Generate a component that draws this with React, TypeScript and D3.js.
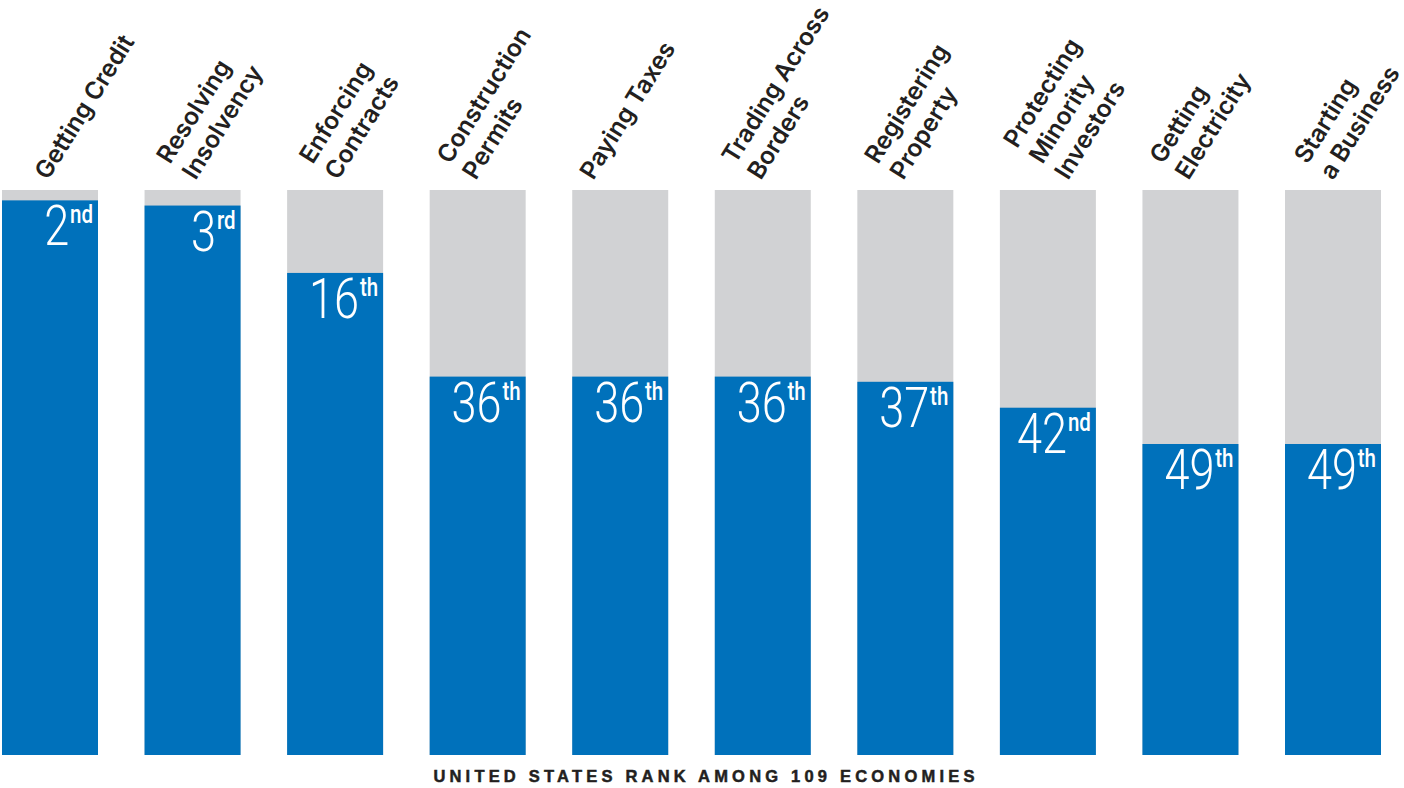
import React from "react";
import * as d3 from "d3";

const categories = [
  "Getting Credit",
  "Resolving Insolvency",
  "Enforcing Contracts",
  "Construction Permits",
  "Paying Taxes",
  "Trading Across Borders",
  "Registering Property",
  "Protecting Minority Investors",
  "Getting Electricity",
  "Starting a Business",
];
const labelLines = [
  ["Getting Credit"],
  ["Resolving", "Insolvency"],
  ["Enforcing", "Contracts"],
  ["Construction", "Permits"],
  ["Paying Taxes"],
  ["Trading Across", "Borders"],
  ["Registering", "Property"],
  ["Protecting", "Minority", "Investors"],
  ["Getting", "Electricity"],
  ["Starting", "a Business"],
];
const ranks = [2, 3, 16, 36, 36, 36, 37, 42, 49, 49];
const suffixes = ["nd", "rd", "th", "th", "th", "th", "th", "nd", "th", "th"];
const totalEconomies = 109;
const title = "UNITED STATES RANK AMONG 109 ECONOMIES";

// layout-only nudges for label placement
const labelDx = [-2, 3, 3, -2, -27, -2, -2, 20, -2, 0];

const W = 1404;
const H = 788;
const BLUE = "#0071bb";
const GRAY = "#d1d2d4";
const INK = "#231f20";

export default function App() {
  const x = d3
    .scaleBand<string>()
    .domain(categories)
    .range([2, 1381])
    .paddingInner(0.3266)
    .paddingOuter(0);
  const y = d3.scaleLinear().domain([0, totalEconomies]).range([190, 755]);
  const bw = x.bandwidth();
  const angle = -58;
  const lh = 30;

  return (
    <div style={{ position: "absolute", left: 0, top: 0 }}>
      <svg width={W} height={H} style={{ display: "block", background: "#fff" }}>
        {categories.map((c, i) => {
          const x0 = x(c)!;
          const r = ranks[i];
          const top = y(r);
          const lines = labelLines[i];
          const n = lines.length;
          const ax = x0 + bw / 2 + labelDx[i];
          const ay = 181;
          return (
            <g key={c}>
              <rect x={x0} y={y(0)} width={bw} height={y(totalEconomies) - y(0)} fill={GRAY} />
              <rect x={x0} y={top} width={bw} height={y(totalEconomies) - top} fill={BLUE} />
              <g transform={`translate(${x0 + bw - 5},${top + 45}) scale(0.82,1)`}>
                <text
                  textAnchor="end"
                  fill="#fff"
                  fontFamily="Roboto, 'Liberation Sans', sans-serif"
                >
                  <tspan fontSize={55} fontWeight={300}>{r}</tspan>
                  <tspan fontSize={25} fontWeight={500} dx={1} dy={-22}>{suffixes[i]}</tspan>
                </text>
              </g>
              <g transform={`translate(${ax},${ay}) rotate(${angle})`}>
                {lines.map((ln, j) => (
                  <text
                    key={j}
                    x={0}
                    y={-(n - 1 - j) * lh}
                    fontFamily="Inter, 'Liberation Sans', Arial, sans-serif"
                    fontWeight={600}
                    fontSize={24.5}
                    letterSpacing={0}
                    fill={INK}
                  >
                    {ln}
                  </text>
                ))}
              </g>
            </g>
          );
        })}
        <text
          x={(435 + 977) / 2}
          y={782}
          textAnchor="middle"
          fontFamily="'Liberation Sans', Arial, sans-serif"
          fontWeight={700}
          fontSize={16.5}
          letterSpacing={4.2}
          fill={INK}
          stroke={INK}
          strokeWidth={0.5}
        >
          {title}
        </text>
      </svg>
    </div>
  );
}
